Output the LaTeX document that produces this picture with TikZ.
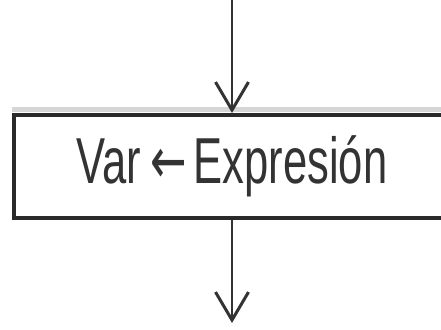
\documentclass[tikz,border=0pt]{standalone}
\usepackage{fontspec}
\setmainfont{Liberation Sans}
\newfontfamily\arrfont{DejaVu Sans}
\usetikzlibrary{arrows.meta}
\definecolor{ink}{HTML}{333333}
\definecolor{edge}{HTML}{2A2A2A}
\definecolor{band}{HTML}{D6D6D6}
\tikzset{
  procbox/.style={draw=edge, line width=4pt, minimum width=436pt, minimum height=103pt,
    inner sep=0pt, text=ink, font=\fontsize{65}{70}\selectfont},
  flow/.style={draw=ink, line width=2.5pt,
    -{Straight Barb[length=28pt,width=33pt,line width=3pt]}}
}
\begin{document}
\begin{tikzpicture}[x=1pt,y=-1pt]
\useasboundingbox (0,0) rectangle (441,329);
\clip (0,0) rectangle (441,329);
\fill[white] (0,0) rectangle (441,329);
\draw[band, line width=5pt] (12,109.5) -- (441,109.5);
\node[procbox] (box) at (232,166.5) {\scalebox{0.67}[1]{Var\hspace{14pt}{\arrfont ←}\hspace{10pt}Expresión}};
\coordinate (top) at (232,0);
\coordinate (bot) at (232,323);
\draw[flow] (top) -- (box.north);
\draw[flow] (box.south) -- (bot);
\end{tikzpicture}
\end{document}
